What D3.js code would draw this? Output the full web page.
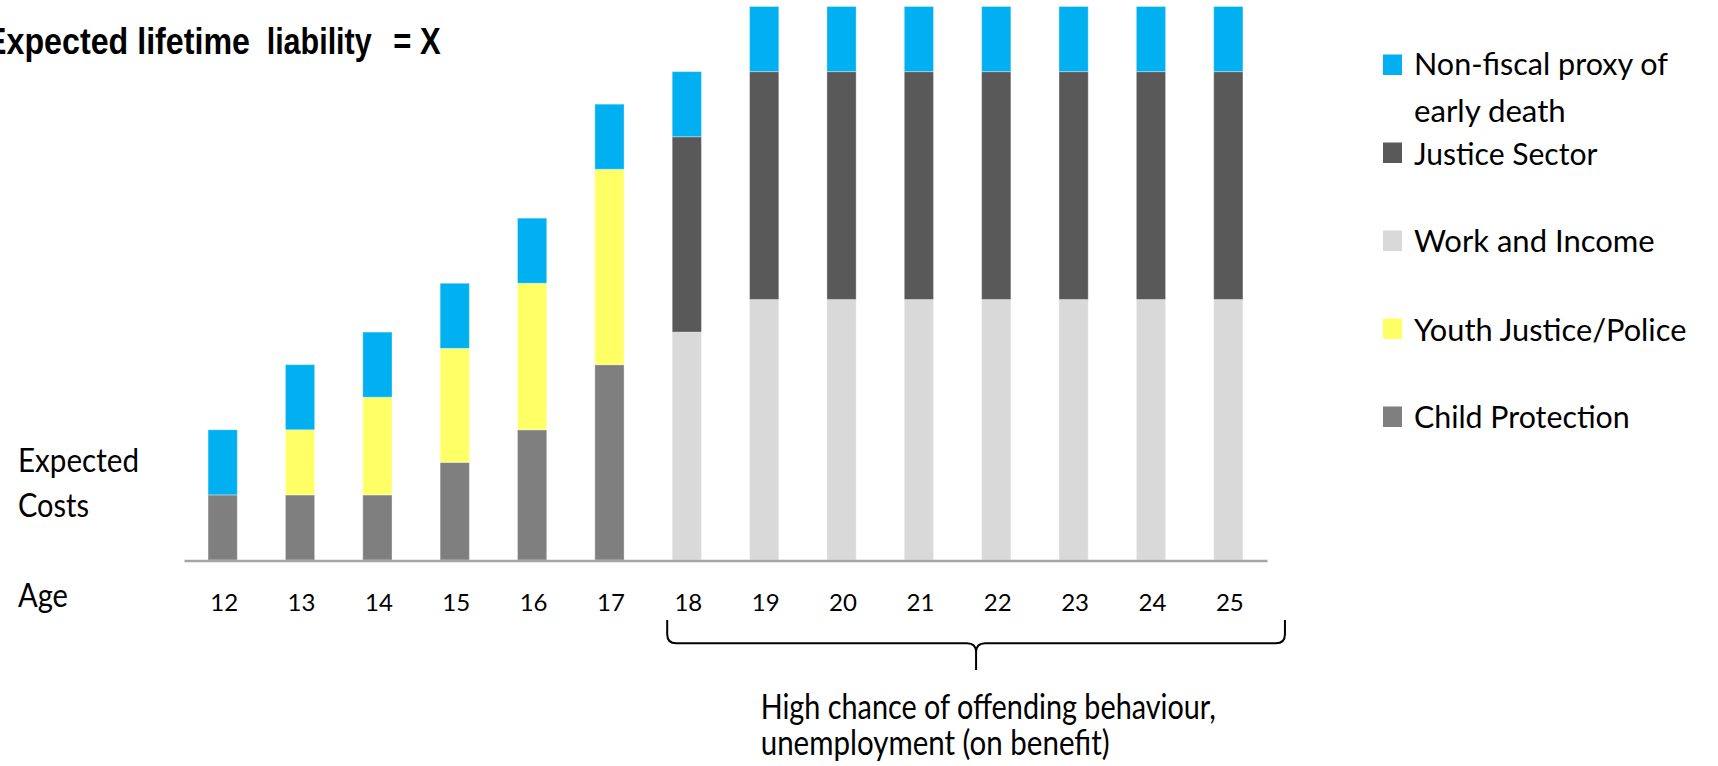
<!DOCTYPE html>
<html>
<head>
<meta charset="utf-8">
<script src="https://cdn.jsdelivr.net/npm/d3@7"></script>
<style>
  html, body { margin: 0; padding: 0; background: #fff; }
  svg { display: block; }
</style>
</head>
<body>
<svg id="chart" width="1718" height="766"></svg>
<script>
// ---- Data ----
const ages = ["12", "13", "14", "15", "16", "17", "18", "19", "20", "21", "22", "23", "24", "25"];
const childProtection = [1, 1, 1, 1.5, 2, 3, 0, 0, 0, 0, 0, 0, 0, 0];
const youthJustice    = [0, 1, 1.5, 1.75, 2.25, 3, 0, 0, 0, 0, 0, 0, 0, 0];
const workAndIncome   = [0, 0, 0, 0, 0, 0, 3.5, 4, 4, 4, 4, 4, 4, 4];
const justiceSector   = [0, 0, 0, 0, 0, 0, 3, 3.5, 3.5, 3.5, 3.5, 3.5, 3.5, 3.5];
const nonFiscalProxy  = [1, 1, 1, 1, 1, 1, 1, 1, 1, 1, 1, 1, 1, 1];
const seriesKeys = ["childProtection", "youthJustice", "workAndIncome", "justiceSector", "nonFiscalProxy"];
const legendOrder = ["nonFiscalProxy", "justiceSector", "workAndIncome", "youthJustice", "childProtection"];
const legendLabels = {
  nonFiscalProxy: ["Non-fiscal proxy of", "early death"],
  justiceSector: ["Justice Sector"],
  workAndIncome: ["Work and Income"],
  youthJustice: ["Youth Justice/Police"],
  childProtection: ["Child Protection"]
};
const titleParts = ["Expected lifetime", "liability", "= X"];
const yLabelLines = ["Expected", "Costs"];
const xLabel = "Age";
const noteLines = ["High chance of offending behaviour,", "unemployment (on benefit)"];
const bracketFrom = "18", bracketTo = "25";

// ---- Build table ----
const seriesData = { childProtection, youthJustice, workAndIncome, justiceSector, nonFiscalProxy };
const table = ages.map((a, i) => {
  const row = { age: a };
  seriesKeys.forEach(k => row[k] = seriesData[k][i]);
  return row;
});

const colors = {
  childProtection: "#7F7F7F",
  youthJustice: "#FFFF66",
  workAndIncome: "#D9D9D9",
  justiceSector: "#595959",
  nonFiscalProxy: "#00B0F0"
};

const svg = d3.select("#chart");
const bodyFont = "Lato, 'Open Sans', 'Noto Sans', sans-serif";

const axisY = 560.5;
const x = d3.scaleBand().domain(ages).range([184, 1267]).paddingInner(0.622).paddingOuter(0.311);
const y = d3.scaleLinear().domain([0, 8.5]).range([axisY - 0.5, 6.5]);

const stacked = d3.stack().keys(seriesKeys)(table);

svg.append("g").selectAll("g")
  .data(stacked).join("g")
  .attr("fill", d => colors[d.key])
  .selectAll("rect")
  .data(d => d.filter(s => s[1] - s[0] > 0))
  .join("rect")
  .attr("x", d => x(d.data.age))
  .attr("width", x.bandwidth())
  .attr("y", d => y(d[1]))
  .attr("height", d => y(d[0]) - y(d[1]))
  .attr("stroke", "#ffffff")
  .attr("stroke-opacity", 0.35)
  .attr("stroke-width", 1);

// ---- X axis ----
const xAxis = d3.axisBottom(x).tickSize(0).tickPadding(0);
const gx = svg.append("g").attr("transform", `translate(0,${axisY})`).call(xAxis);
gx.select(".domain").attr("stroke", "#A6A6A6").attr("stroke-width", 2.5);
gx.selectAll(".tick text")
  .attr("y", 50).attr("dy", 0)
  .attr("dx", 1.5)
  .attr("font-family", bodyFont)
  .attr("font-size", 24)
  .attr("fill", "#000");

// ---- Title (single text, positioned tspans) ----
const titleFont = "'Liberation Sans Narrow', 'Liberation Sans', Arial, sans-serif";
const titlePos = [[-15, 265], [266.7, 105], [393.3, 47.4]];
const title = svg.append("text").attr("y", 54)
  .attr("font-family", titleFont).attr("font-weight", "bold").attr("font-size", 36)
  .attr("fill", "#000");
titleParts.forEach((t, i) => {
  title.append("tspan").attr("x", titlePos[i][0])
    .attr("textLength", titlePos[i][1]).attr("lengthAdjust", "spacingAndGlyphs")
    .text(t);
});

// ---- Left labels ----
const leftLbl = [[yLabelLines[0], 471.7, 121], [yLabelLines[1], 516.7, 71], [xLabel, 606.7, 50]];
leftLbl.forEach(([t, yy, w]) => {
  svg.append("text").attr("x", 18).attr("y", yy)
    .attr("textLength", w).attr("lengthAdjust", "spacingAndGlyphs")
    .attr("font-family", bodyFont).attr("font-size", 32).attr("fill", "#000").text(t);
});

// ---- Legend ----
const legendSquareY = { nonFiscalProxy: 54.5, justiceSector: 142.5, workAndIncome: 230.5, youthJustice: 318.5, childProtection: 406.5 };
const legendTextY = { nonFiscalProxy: [75, 121.7], justiceSector: [165], workAndIncome: [252.3], youthJustice: [340.7], childProtection: [428.3] };
const legendWidths = { nonFiscalProxy: [254, 151.7], justiceSector: [183.4], workAndIncome: [240.7], youthJustice: [272.4], childProtection: [215.7] };
const lg = svg.append("g");
legendOrder.forEach(k => {
  lg.append("rect").attr("x", 1383).attr("y", legendSquareY[k]).attr("width", 19).attr("height", 20.5).attr("fill", colors[k]);
  legendLabels[k].forEach((line, j) => {
    lg.append("text").attr("x", 1414).attr("y", legendTextY[k][j])
      .attr("textLength", legendWidths[k][j]).attr("lengthAdjust", "spacingAndGlyphs")
      .attr("font-family", bodyFont).attr("font-size", 30).attr("fill", "#000").text(line);
  });
});

// ---- Bracket ----
const bl = x(bracketFrom) - 5;
const br = x(bracketTo) + x.bandwidth() + 42;
const bm = (bl + br) / 2;
const bTop = 620, bMid = 643.3, bTip = 670, r = 9;
const bracePath = [
  `M${bl},${bTop}`, `L${bl},${bMid - r}`, `Q${bl},${bMid} ${bl + r},${bMid}`,
  `L${bm - r},${bMid}`, `Q${bm},${bMid} ${bm},${bMid + r}`, `L${bm},${bTip}`,
  `M${br},${bTop}`, `L${br},${bMid - r}`, `Q${br},${bMid} ${br - r},${bMid}`,
  `L${bm + r},${bMid}`, `Q${bm},${bMid} ${bm},${bMid + r}`
].join(" ");
svg.append("path").attr("d", bracePath).attr("fill", "none").attr("stroke", "#000").attr("stroke-width", 2);

// ---- Note (single text, two lines) ----
const noteY = [718.5, 754.5], noteW = [455, 349];
const note = svg.append("text")
  .attr("font-family", bodyFont).attr("font-size", 34).attr("fill", "#000");
noteLines.forEach((t, i) => {
  note.append("tspan").attr("x", 760.7).attr("y", noteY[i])
    .attr("textLength", noteW[i]).attr("lengthAdjust", "spacingAndGlyphs")
    .text(t);
});
</script>
</body>
</html>
